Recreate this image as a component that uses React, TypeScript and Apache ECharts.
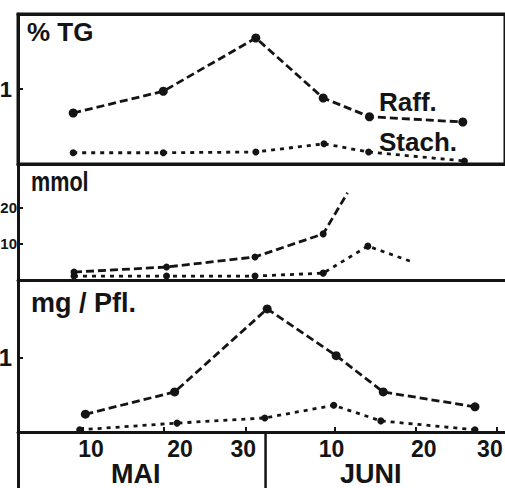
import React, { useEffect, useRef } from "react";
import * as echarts from "echarts";

// x values: day counted from 1 May (May d = d, June d = 31 + d)
const tgRaffDays = [8.8, 19.9, 31.3, 39.6, 45.3, 56.8];
const tgRaff = [0.68, 0.97, 1.68, 0.88, 0.63, 0.56];
const tgStachDays = [8.8, 19.9, 31.3, 39.7, 45.2, 57.0];
const tgStach = [0.15, 0.15, 0.16, 0.27, 0.16, 0.04];

const mmolRaffDays = [8.9, 20.3, 31.2, 39.6, 42.6];
const mmolRaff = [2.2, 3.6, 6.4, 12.8, 24.2];
const mmolStachDays = [8.9, 20.3, 31.2, 39.6, 45.1, 50.6];
const mmolStach = [1.1, 1.1, 1.1, 1.9, 9.4, 5.0];

const mgRaffDays = [10.3, 21.3, 32.7, 41.2, 47.0, 58.3];
const mgRaff = [0.24, 0.54, 1.66, 1.03, 0.54, 0.34];
const mgStachDays = [9.6, 21.6, 32.4, 40.9, 46.7, 58.3];
const mgStach = [0.03, 0.12, 0.19, 0.36, 0.15, 0.03];

const xTickDays = [10, 20, 30, 41, 51, 61];
const xTickLabels = ["10", "20", "30", "10", "20", "30"];
const monthLabels = ["MAI", "JUNI"];
const monthBoundary = 32.5;

const tgTicks = [1];
const mmolTicks = [10, 20];
const mgTicks = [1];

const FONT = "'Liberation Sans', Arial, sans-serif";
const INK = "#141414";

// hand-lettered label offsets (px) relative to their tick
const labelShift = [8, 16, -2, -3, 8, -7];

function pairs(xs: number[], ys: number[], noSymbolLast = false) {
  return xs.map((x, i) => {
    if (noSymbolLast && i === xs.length - 1) return { value: [x, ys[i]], symbol: "none" };
    return { value: [x, ys[i]] };
  });
}

function raff(data: any[], xi: number, yi: number, size = 9) {
  return {
    type: "line",
    xAxisIndex: xi,
    yAxisIndex: yi,
    data,
    symbol: "circle",
    symbolSize: size,
    lineStyle: { color: INK, width: 2.8, type: [8, 4] },
    itemStyle: { color: INK },
    silent: true,
    z: 3,
  };
}

function stach(data: any[], xi: number, yi: number, size = 7) {
  return {
    type: "line",
    xAxisIndex: xi,
    yAxisIndex: yi,
    data,
    symbol: "circle",
    symbolSize: size,
    lineStyle: { color: INK, width: 2.8, type: [4, 5] },
    itemStyle: { color: INK },
    silent: true,
    z: 3,
  };
}

const lineOnly = (gridIndex: number, position: string = "bottom") => ({
  type: "value",
  gridIndex,
  position,
  min: 2,
  max: 62,
  axisLine: { show: true, onZero: false, lineStyle: { color: INK, width: 3 } },
  axisTick: { show: false },
  axisLabel: { show: false },
  splitLine: { show: false },
});

const yAxisDef = (gridIndex: number, max: number, ticks: number[], margin: number, fontSize: number) => ({
  type: "value",
  gridIndex,
  min: 0,
  max,
  axisLine: { show: true, onZero: false, lineStyle: { color: INK, width: 3 } },
  axisTick: { show: true, inside: true, length: 5, customValues: ticks, lineStyle: { color: INK, width: 2 } },
  axisLabel: {
    show: true,
    customValues: ticks,
    margin,
    color: INK,
    fontFamily: FONT,
    fontWeight: "bold",
    fontSize,
    formatter: (v: number) => String(v),
  },
  splitLine: { show: false },
});

const rich: any = {};
labelShift.forEach((s, i) => {
  rich["s" + i] = {
    fontFamily: FONT,
    fontWeight: "bold",
    fontSize: 23,
    color: INK,
    padding: s >= 0 ? [0, 0, 0, 2 * s] : [0, -2 * s, 0, 0],
  };
});

const gridBase = { left: 18, right: 0, outerBoundsMode: "none", containLabel: false };

export default function App() {
  const ref = useRef<HTMLDivElement>(null);
  useEffect(() => {
    if (!ref.current) return;
    const chart = echarts.init(ref.current, undefined, { renderer: "svg" });
    const option: any = {
      animation: false,
      backgroundColor: "#ffffff",
      grid: [
        { ...gridBase, top: 14, height: 150, show: true, borderColor: INK, borderWidth: 3, backgroundColor: "transparent" },
        { ...gridBase, top: 164, height: 116 },
        { ...gridBase, top: 280, height: 152 },
        { ...gridBase, top: 432, height: 60 },
      ],
      xAxis: [
        lineOnly(0, "bottom"),
        lineOnly(0, "top"),
        lineOnly(1, "bottom"),
        {
          ...lineOnly(2, "bottom"),
          axisTick: { show: true, inside: true, length: 5, customValues: xTickDays, lineStyle: { color: INK, width: 2 } },
          axisLabel: {
            show: true,
            customValues: xTickDays,
            margin: 5,
            color: INK,
            fontFamily: FONT,
            fontWeight: "bold",
            fontSize: 23,
            rich,
            formatter: (v: number) => {
              const i = xTickDays.indexOf(v);
              return i < 0 ? "" : `{s${i}|${xTickLabels[i]}}`;
            },
          },
        },
        { ...lineOnly(3, "bottom"), axisLine: { show: false } },
      ],
      yAxis: [
        yAxisDef(0, 2, tgTicks, 6, 22),
        yAxisDef(1, 32.2, mmolTicks, 1, 15),
        yAxisDef(2, 2.05, mgTicks, 6, 24),
        {
          type: "value",
          gridIndex: 3,
          min: 0,
          max: 1,
          axisLine: { show: true, onZero: false, lineStyle: { color: INK, width: 3 } },
          axisTick: { show: false },
          axisLabel: { show: false },
          splitLine: { show: false },
        },
      ],
      series: [
        raff(pairs(tgRaffDays, tgRaff), 0, 0),
        stach(pairs(tgStachDays, tgStach), 1, 0),
        raff(pairs(mmolRaffDays, mmolRaff, true), 2, 1, 7),
        stach(pairs(mmolStachDays, mmolStach, true), 2, 1, 7),
        raff(pairs(mgRaffDays, mgRaff), 3, 2),
        stach(pairs(mgStachDays, mgStach), 3, 2),
        {
          type: "line",
          xAxisIndex: 4,
          yAxisIndex: 3,
          data: [
            [monthBoundary, 0],
            [monthBoundary, 1],
          ],
          symbol: "none",
          lineStyle: { color: INK, width: 2.5 },
          silent: true,
        },
      ],
      graphic: [
        { type: "text", x: 27, y: 19, style: { text: "% TG", font: `bold 26px ${FONT}`, fill: INK } },
        { type: "text", x: 31, y: 168, scaleX: 0.8, style: { text: "mmol", font: `bold 27px ${FONT}`, fill: INK } },
        { type: "text", x: 31, y: 289, style: { text: "mg / Pfl.", font: `bold 27px ${FONT}`, fill: INK } },
        { type: "text", x: 379, y: 89, style: { text: "Raff.", font: `bold 26px ${FONT}`, fill: INK } },
        { type: "text", x: 379, y: 129, style: { text: "Stach.", font: `bold 26px ${FONT}`, fill: INK } },
        { type: "text", x: 111, y: 460, style: { text: monthLabels[0], font: `bold 27px ${FONT}`, fill: INK } },
        { type: "text", x: 340, y: 460, style: { text: monthLabels[1], font: `bold 27px ${FONT}`, fill: INK } },
      ],
    };
    chart.setOption(option);
    return () => chart.dispose();
  }, []);
  return <div ref={ref} style={{ position: "fixed", left: 0, top: 0, width: 505, height: 488 }} />;
}
